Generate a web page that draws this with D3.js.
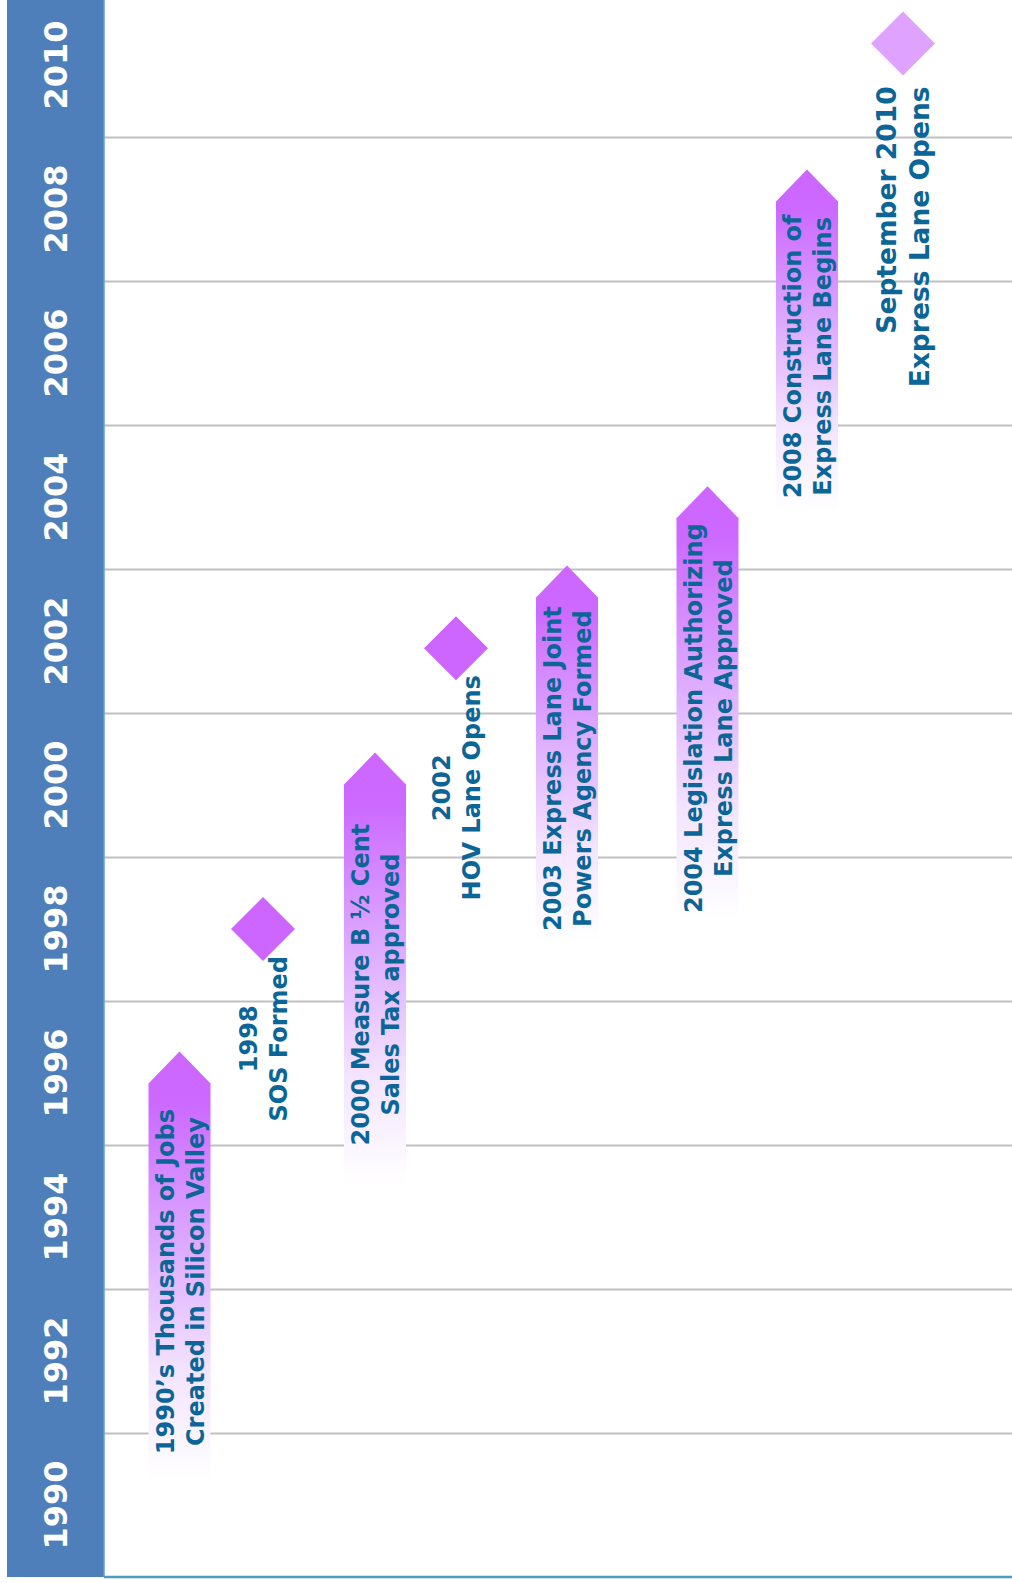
<!DOCTYPE html>
<html><head><meta charset="utf-8">
<script src="https://cdn.jsdelivr.net/npm/d3@7"></script>
<style>html,body{margin:0;padding:0;background:#fff;} svg{display:block}</style>
</head><body>
<script>
// ---- data ----
const yearLabels = ["1990","1992","1994","1996","1998","2000","2002","2004","2006","2008","2010"];
const yearValues = [1990,1992,1994,1996,1998,2000,2002,2004,2006,2008,2010];
const gridYears = [1991,1993,1995,1997,1999,2001,2003,2005,2007,2009];

const eventLabels = [
  ["1990\u2019s Thousands of Jobs","Created in Silicon Valley"],
  ["1998","SOS Formed"],
  ["2000 Measure B \u00BD Cent","Sales Tax approved"],
  ["2002","HOV Lane Opens"],
  ["2003 Express Lane Joint","Powers Agency Formed"],
  ["2004 Legislation Authorizing","Express Lane Approved"],
  ["2008 Construction of","Express Lane Begins"],
  ["September 2010","Express Lane Opens"]
];
const eventTypes = ["arrow","diamond","arrow","diamond","arrow","arrow","arrow","diamond"];
const eventYears = [1996.3, 1998.0, 2000.45, 2001.9, 2003.05, 2004.15, 2008.55, 2010.3];
const eventStartYears = [1990.35, null, 1994.45, null, 1997.85, 1998.15, 2003.8, null];
const eventLanes = [1.795, 2.63, 3.75, 4.56, 5.67, 7.075, 8.07, 9.03];
const eventFinal = [false,false,false,false,false,false,false,true];

// ---- layout ----
const W = 1012, H = 1583;
const svg = d3.select("body").append("svg").attr("width", W).attr("height", H)
  .style("font-family", "'DejaVu Sans', Verdana, sans-serif");

const y = d3.scaleLinear().domain([1989, 2011]).range([1577, -7]);
const x = d3.scaleLinear().domain([0, 10]).range([0, 1000]);

const barLeft = 7, barRight = 104;

const defs = svg.append("defs");
const grad = defs.append("linearGradient").attr("id", "arrowGrad")
  .attr("x1", 0).attr("y1", 0).attr("x2", 0).attr("y2", 1);
[[0, "#cc66ff"], [0.12, "#cc69ff"], [0.45, "#ddaaff"], [0.75, "#f3e4ff"], [1, "#ffffff"]]
  .forEach(([o, c]) => grad.append("stop").attr("offset", o).attr("stop-color", c));

// grid lines via axis
const grid = svg.append("g").attr("transform", `translate(${barRight},0)`)
  .call(d3.axisRight(y).tickValues(gridYears).tickSize(W - barRight).tickFormat(""));
grid.select(".domain").remove();
grid.selectAll(".tick line").attr("stroke", "#c0c0c0").attr("stroke-width", 2);

// left blue band
svg.append("rect").attr("x", barLeft).attr("y", 0)
  .attr("width", barRight - barLeft).attr("height", y(1989))
  .attr("fill", "#4f7fba");
svg.append("line").attr("x1", barRight).attr("x2", barRight).attr("y1", 0).attr("y2", y(1989))
  .attr("stroke", "#5ea3c8").attr("stroke-width", 1.5);
svg.append("line").attr("x1", barRight).attr("x2", W).attr("y1", y(1989)).attr("y2", y(1989))
  .attr("stroke", "#4e9cc0").attr("stroke-width", 2.5);

svg.append("g").selectAll("text").data(yearValues).join("text")
  .attr("transform", d => `translate(${(barLeft + barRight) / 2},${y(d)}) rotate(-90)`)
  .attr("text-anchor", "middle").attr("dominant-baseline", "central")
  .attr("fill", "#ffffff").attr("font-weight", "bold").attr("font-size", 32)
  .text((d, i) => yearLabels[i]);

// events
const textColor = "#0b6697";
const halfW = 31, headH = 32, dHalf = 32;

eventLabels.forEach((lines, i) => {
  const cx = x(eventLanes[i]);
  const fontSize = eventFinal[i] ? 26.5 : 24;
  const lineGap = eventFinal[i] ? 33 : 30;
  const g = svg.append("g");
  if (eventTypes[i] === "arrow") {
    const tip = y(eventYears[i]);
    const bottom = y(eventStartYears[i]);
    const sh = tip + headH;
    g.append("path")
      .attr("d", `M${cx},${tip}L${cx + halfW},${sh}L${cx + halfW},${bottom}L${cx - halfW},${bottom}L${cx - halfW},${sh}Z`)
      .attr("fill", "url(#arrowGrad)");
    const cy = (sh + bottom) / 2;
    lines.forEach((t, j) => {
      g.append("text")
        .attr("transform", `translate(${cx + (j - 0.5) * lineGap + 1},${cy}) rotate(-90)`)
        .attr("text-anchor", "middle").attr("dominant-baseline", "central")
        .attr("fill", textColor).attr("font-weight", "bold").attr("font-size", fontSize)
        .text(t);
    });
  } else {
    const cy = y(eventYears[i]);
    g.append("path")
      .attr("d", `M${cx},${cy - dHalf}L${cx + dHalf},${cy}L${cx},${cy + dHalf}L${cx - dHalf},${cy}Z`)
      .attr("fill", eventFinal[i] ? "#dfa2ff" : "#cc66ff");
    const texts = lines.map((t, j) => g.append("text")
      .attr("fill", textColor).attr("font-weight", "bold").attr("font-size", fontSize)
      .attr("dominant-baseline", "central").text(t));
    if (eventFinal[i]) {
      const top = cy + dHalf + 11;
      texts.forEach((tx, j) => tx.attr("text-anchor", "end")
        .attr("transform", `translate(${cx + (j - 0.5) * lineGap},${top}) rotate(-90)`));
    } else {
      const maxLen = d3.max(texts, tx => tx.node().getComputedTextLength());
      const mid = cy + dHalf - 5 + maxLen / 2;
      texts.forEach((tx, j) => tx.attr("text-anchor", "middle")
        .attr("transform", `translate(${cx + (j - 0.5) * lineGap + 1},${mid}) rotate(-90)`));
    }
  }
});
</script>
</body></html>
